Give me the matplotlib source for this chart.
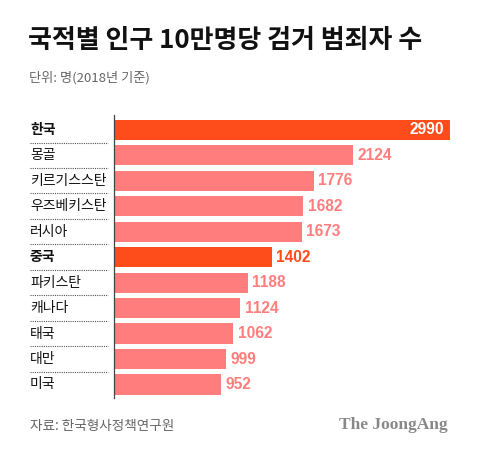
import matplotlib
matplotlib.use('Agg')
import matplotlib.pyplot as plt
from matplotlib.transforms import blended_transform_factory

plt.rcParams['font.family'] = ['Noto Sans CJK KR', 'DejaVu Sans']

# 데이터
countries = ['한국', '몽골', '키르기스스탄', '우즈베키스탄', '러시아', '중국',
             '파키스탄', '캐나다', '태국', '대만', '미국']
values = [2990, 2124, 1776, 1682, 1673, 1402, 1188, 1124, 1062, 999, 952]
highlight = ['한국', '중국']

title = '국적별 인구 10만명당 검거 범죄자 수'
subtitle = '단위: 명(2018년 기준)'
source = '자료: 한국형사정책연구원'
brand = 'The JoongAng'

HI = '#ff4c1a'
LO = '#ff7d7d'

W, H = 480, 453
fig = plt.figure(figsize=(W / 100, H / 100), dpi=100)
fig.patch.set_facecolor('white')

# 축 위치 (픽셀 기준)
x0, x1 = 114, 450
y_top, y_bot = 115, 398
ax = fig.add_axes([x0 / W, 1 - y_bot / H, (x1 - x0) / W, (y_bot - y_top) / H])
ax.set_xlim(0, max(values))
ax.set_ylim(len(values) - 1 + 0.53, -0.58)
ax.axis('off')

ypos = list(range(len(values)))
for y, c, v in zip(ypos, countries, values):
    hi = c in highlight
    ax.barh(y, v, height=0.79, color=HI if hi else LO, edgecolor='none',
            linewidth=0)
    if c == countries[0]:
        ax.text(v - 55, y, str(v), color='white', fontsize=11.2, fontweight='bold',
                ha='right', va='center', family=['Liberation Sans', 'DejaVu Sans'])
    else:
        ax.text(v + 40, y, str(v), color=HI if hi else LO, fontsize=11.2,
                fontweight='bold', ha='left', va='center',
                family=['Liberation Sans', 'DejaVu Sans'])

# 세로 축선
ax.plot([0, 0], [-0.58, len(values) - 1 + 0.53], color='#444444', lw=0.9,
        clip_on=False)

# 국가명과 점선 구분선
tr = blended_transform_factory(fig.transFigure, ax.transData)
for y, c in zip(ypos, countries):
    hi = c in highlight
    ax.text(30 / W, y, c, transform=tr, fontsize=10, ha='left', va='center',
            color='#111111', fontweight='bold' if hi else 'normal')
    if y < len(values) - 1:
        ax.plot([30 / W, 108 / W], [y + 0.5, y + 0.5], transform=tr,
                color='#555555', lw=0.8, ls=(0, (1, 1)), clip_on=False)

fig.text(28 / W, 1 - 41 / H, title, fontsize=18.7, fontweight='heavy',
         ha='left', va='center', color='#111111')
fig.text(29 / W, 1 - 78 / H, subtitle, fontsize=9.5, ha='left', va='center',
         color='#666666')
fig.text(30 / W, 1 - 426 / H, source, fontsize=9.8, ha='left', va='center',
         color='#666666')
fig.text(448 / W, 1 - 425 / H, brand, fontsize=12.5, fontweight='bold',
         ha='right', va='center', color='#888888',
         family=['Liberation Serif', 'DejaVu Serif'])

fig.savefig('out.png', dpi=100, facecolor='white')
